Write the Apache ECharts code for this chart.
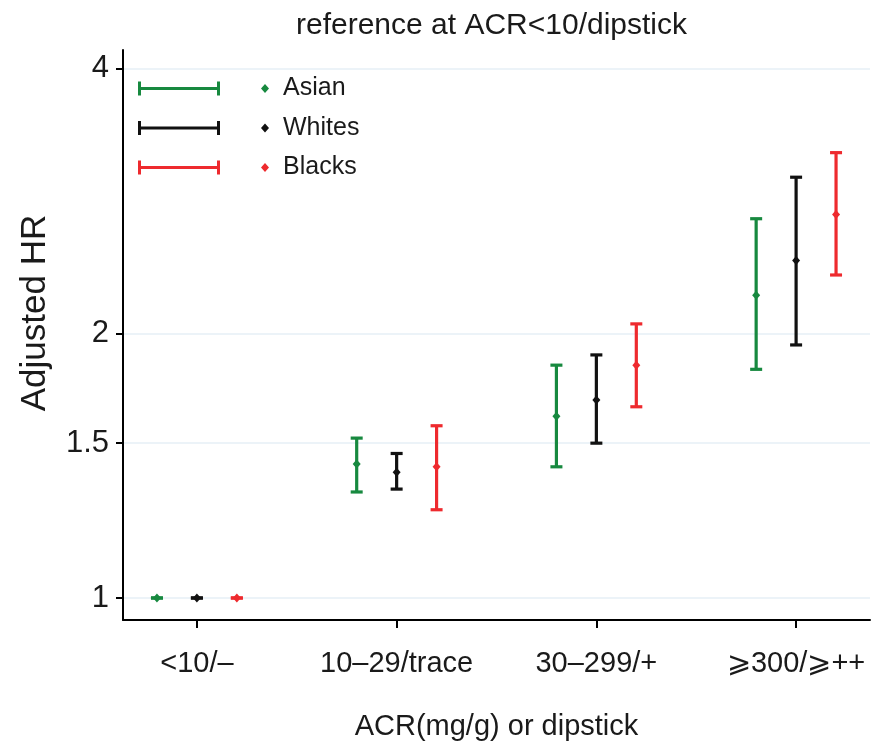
<!DOCTYPE html>
<html>
<head>
<meta charset="utf-8">
<script src="https://cdn.jsdelivr.net/npm/echarts@6/dist/echarts.min.js"></script>
<style>
  html, body { margin: 0; padding: 0; background: #fff; }
  #chart { width: 886px; height: 749px; }
</style>
</head>
<body>
<div id="chart"></div>
<script>
// ACR / dipstick categories along the x axis
const categories = ['<10/\u2013', '10\u201329/trace', '30\u2013299/+', '\u2A7E300/\u2A7E++'];

// Adjusted hazard ratios with 95% CI per group (reference category = 1)
const asianHR  = [1, 1.42, 1.61, 2.21];
const asianLo  = [1, 1.32, 1.41, 1.82];
const asianHi  = [1, 1.52, 1.84, 2.70];

const whitesHR = [1, 1.39, 1.68, 2.42];
const whitesLo = [1, 1.33, 1.50, 1.94];
const whitesHi = [1, 1.46, 1.89, 3.01];

const blacksHR = [1, 1.41, 1.84, 2.73];
const blacksLo = [1, 1.26, 1.65, 2.33];
const blacksHi = [1, 1.57, 2.05, 3.21];

// Tick labels on the (log) HR axis
const yTicks = [1, 1.5, 2, 4];

// Visible HR range of the log axis
const yRange = [0.944, 4.2];

const groups = [
  { name: 'Asian',  color: '#17893f', hr: asianHR,  lo: asianLo,  hi: asianHi,  offset: -0.2 },
  { name: 'Whites', color: '#111111', hr: whitesHR, lo: whitesLo, hi: whitesHi, offset: 0 },
  { name: 'Blacks', color: '#ee2a2e', hr: blacksHR, lo: blacksLo, hi: blacksHi, offset: 0.2 }
];

const ln = Math.log;

// Error bar with caps and a small diamond at the point estimate
function renderErrorBar(params, api) {
  const x = api.value(0);
  const pLo = api.coord([x, api.value(1)]);
  const pHi = api.coord([x, api.value(2)]);
  const pMid = api.coord([x, api.value(3)]);
  const color = api.visual('color');
  const half = 6;
  const lw = 3.2;
  const cx = pMid[0], cy = pMid[1];
  return {
    type: 'group',
    children: [
      { type: 'line', shape: { x1: pLo[0], y1: pLo[1], x2: pHi[0], y2: pHi[1] },
        style: { stroke: color, lineWidth: lw } },
      { type: 'line', shape: { x1: pLo[0] - half, y1: pLo[1], x2: pLo[0] + half, y2: pLo[1] },
        style: { stroke: color, lineWidth: lw } },
      { type: 'line', shape: { x1: pHi[0] - half, y1: pHi[1], x2: pHi[0] + half, y2: pHi[1] },
        style: { stroke: color, lineWidth: lw } },
      { type: 'polygon', shape: { points: [[cx, cy - 4.5], [cx + 4, cy], [cx, cy + 4.5], [cx - 4, cy]] },
        style: { fill: color } }
    ]
  };
}

// Legend key: horizontal error bar followed by a diamond
const legendIcon = 'path://M0,0 H3 V5.5 H79 V0 H82 V14 H79 V8.5 H3 V14 H0 Z M127,2.5 L131,7 L127,11.5 L123,7 Z';

const series = groups.map(g => ({
  name: g.name,
  type: 'custom',
  renderItem: renderErrorBar,
  itemStyle: { color: g.color },
  encode: { x: 0, y: [1, 2, 3] },
  data: categories.map((c, i) => [i + 1 + g.offset, ln(g.lo[i]), ln(g.hi[i]), ln(g.hr[i])]),
  z: 3
}));

const fontFamily = '"Liberation Sans", Arial, Helvetica, sans-serif';
const textColor = '#1a1a1a';

const chart = echarts.init(document.getElementById('chart'), null, { renderer: 'canvas' });
chart.setOption({
  backgroundColor: '#ffffff',
  animation: false,
  textStyle: { fontFamily: fontFamily },
  title: {
    text: 'reference at ACR<10/dipstick',
    left: 291,
    top: 6,
    textStyle: { fontFamily: fontFamily, fontSize: 30, fontWeight: 'normal', color: textColor }
  },
  legend: {
    orient: 'vertical',
    left: 133,
    top: 71,
    icon: legendIcon,
    itemWidth: 131,
    itemHeight: 14,
    itemGap: 14.5,
    data: groups.map(g => g.name),
    textStyle: { fontFamily: fontFamily, fontSize: 25, color: textColor, lineHeight: 25, padding: [0, 0, 0, 9] }
  },
  grid: { left: 123, right: 16, top: 50, bottom: 129, containLabel: false },
  xAxis: {
    type: 'value',
    min: 0.63,
    max: 4.37,
    name: 'ACR(mg/g) or dipstick',
    nameLocation: 'middle',
    nameGap: 92,
    nameTextStyle: { fontFamily: fontFamily, fontSize: 29, color: textColor },
    axisLine: { show: true, onZero: false, lineStyle: { color: '#000', width: 2 } },
    axisTick: { show: true, length: 8, lineStyle: { color: '#000', width: 2 }, customValues: [1, 2, 3, 4] },
    axisLabel: {
      customValues: [1, 2, 3, 4],
      margin: 29,
      fontFamily: fontFamily,
      fontSize: 29,
      color: textColor,
      formatter: v => categories[Math.round(v) - 1]
    },
    splitLine: { show: false }
  },
  yAxis: {
    type: 'value',
    min: ln(yRange[0]),
    max: ln(yRange[1]),
    name: 'Adjusted HR',
    nameLocation: 'middle',
    nameGap: 70,
    nameTextStyle: { fontFamily: fontFamily, fontSize: 35, color: textColor, padding: [0, 0, 0, 44] },
    axisLine: { show: true, onZero: false, lineStyle: { color: '#000', width: 2 } },
    axisTick: { show: true, length: 7, lineStyle: { color: '#000', width: 2 }, customValues: yTicks.map(ln) },
    axisLabel: {
      customValues: yTicks.map(ln),
      margin: 14,
      fontFamily: fontFamily,
      fontSize: 31,
      color: textColor,
      formatter: v => String(Math.round(Math.exp(v) * 10) / 10)
    },
    splitLine: { show: true, lineStyle: { color: '#e6eff6', width: 1.5 } }
  },
  series: series
});
</script>
</body>
</html>
